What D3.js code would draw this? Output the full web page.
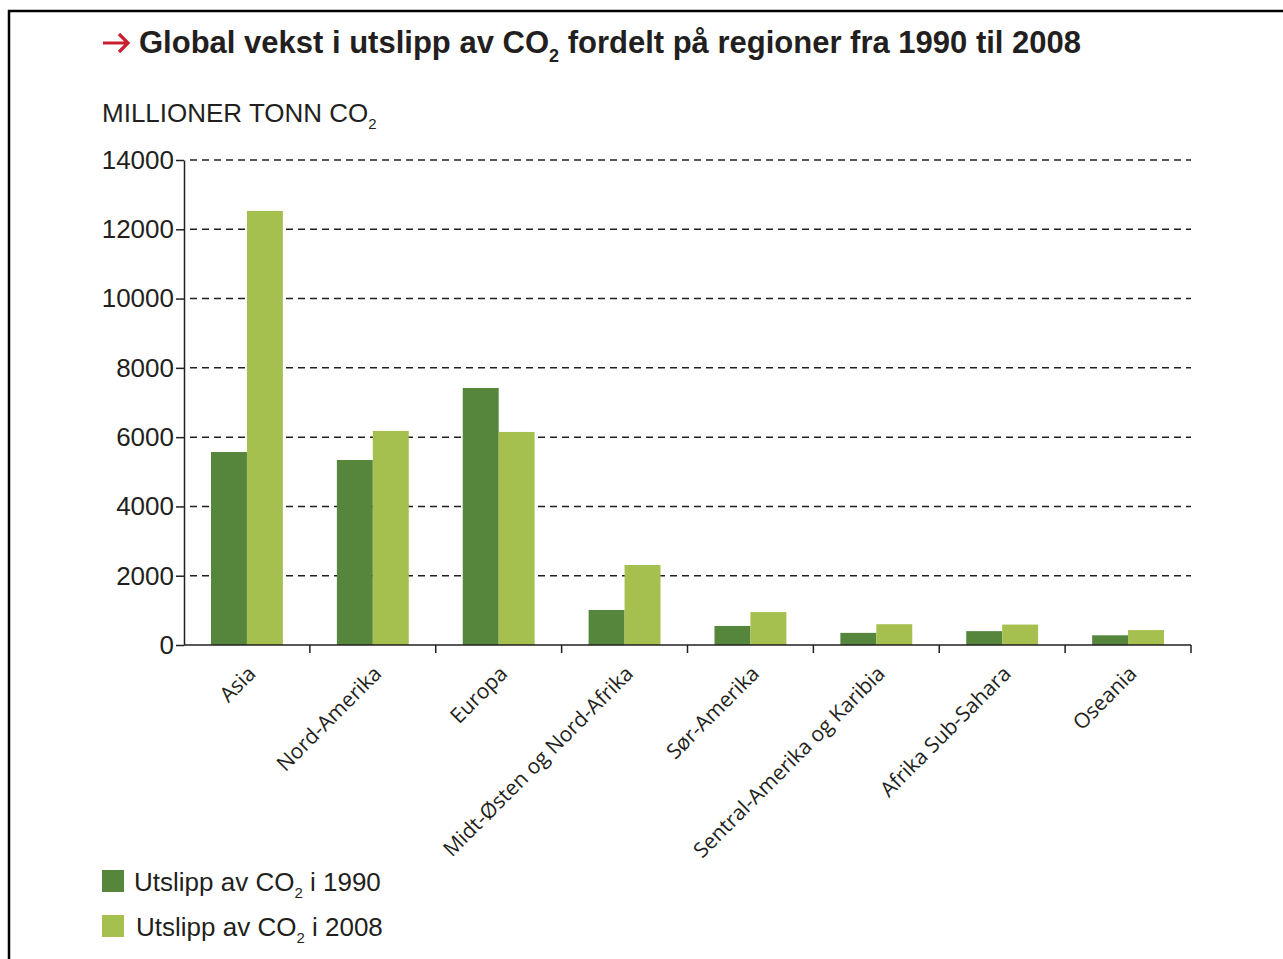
<!DOCTYPE html>
<meta charset="utf-8">
<style>
body { margin: 0; background: #fff; }
svg text { fill: #231f20; }
.grid line { stroke: #231f20; stroke-dasharray: 7,5; stroke-width: 1.5px; }
.axis path, .axis line { stroke: #231f20; stroke-width: 1.5px; }
.axis text { font-family: "Liberation Sans", Arial, sans-serif; font-size: 26px; fill: #231f20; }
.xaxis text { font-family: "Open Sans", sans-serif; font-size: 21px; }
</style>
<svg width="1283" height="959"></svg>
<script src="https://d3js.org/d3.v7.min.js"></script>
<script>

  var regions = ["Asia", "Nord-Amerika", "Europa", "Midt-Østen og Nord-Afrika", "Sør-Amerika",
                 "Sentral-Amerika og Karibia", "Afrika Sub-Sahara", "Oseania"];
  var values1990 = [5570, 5340, 7420, 1010, 550, 350, 400, 280];
  var values2008 = [12530, 6180, 6150, 2310, 950, 600, 590, 430];
  var yTicks = [0, 2000, 4000, 6000, 8000, 10000, 12000, 14000];
  var series = ["1990", "2008"];
  var colors = ["#55863c", "#a5c04e"];

  var svg = d3.select("svg");

  // frame (left + top edge)
  svg.append("path")
      .attr("d", "M9,959 V11 H1283")
      .attr("fill", "none")
      .attr("stroke", "#000")
      .attr("stroke-width", 2.5);

  // red arrow before the title
  svg.append("path")
      .attr("d", "M103,43 H128 M119,34 L128,43 L119,52")
      .attr("fill", "none")
      .attr("stroke", "#c8202f")
      .attr("stroke-width", 3.2);

  // title
  var title = svg.append("text")
      .attr("x", 139).attr("y", 53)
      .style("font-family", "'Liberation Sans', Arial, sans-serif")
      .style("font-size", "31px")
      .style("font-weight", "bold");
  title.append("tspan").text("Global vekst i utslipp av CO");
  title.append("tspan").text("2").attr("dy", 9).style("font-size", "18px");
  title.append("tspan").text(" fordelt på regioner fra 1990 til 2008").attr("dy", -9);

  // unit label
  var unit = svg.append("text")
      .attr("x", 102).attr("y", 122)
      .style("font-family", "'Liberation Sans', Arial, sans-serif")
      .style("font-size", "26px");
  unit.append("tspan").text("MILLIONER TONN CO");
  unit.append("tspan").text("2").attr("dy", 7).style("font-size", "15px");

  var x0 = 184, x1 = 1191, yTop = 160, yBot = 645;

  var x = d3.scaleBand().domain(regions).range([x0, x1]).paddingInner(0).paddingOuter(0);
  var xs = d3.scaleBand().domain(series).range([27, x.bandwidth() - 27]).padding(0);
  var y = d3.scaleLinear().domain([0, 14000]).range([yBot, yTop]);

  // gridlines
  svg.append("g").attr("class", "grid")
    .selectAll("line")
    .data(yTicks.filter(function(d) { return d > 0; }))
    .enter().append("line")
      .attr("x1", x0 + 6).attr("x2", x1)
      .attr("y1", function(d) { return y(d); })
      .attr("y2", function(d) { return y(d); });

  // bars
  var groups = svg.append("g")
    .selectAll("g")
    .data(regions)
    .enter().append("g")
      .attr("transform", function(d) { return "translate(" + x(d) + ",0)"; });

  groups.selectAll("rect")
    .data(function(d, i) { return [values1990[i], values2008[i]]; })
    .enter().append("rect")
      .attr("x", function(d, j) { return xs(series[j]); })
      .attr("width", xs.bandwidth())
      .attr("y", function(d) { return y(d); })
      .attr("height", function(d) { return yBot - y(d); })
      .attr("fill", function(d, j) { return colors[j]; });

  // y axis
  svg.append("g").attr("class", "axis")
      .attr("transform", "translate(" + x0 + ",0)")
      .call(d3.axisLeft(y).tickValues(yTicks).tickSize(8).tickSizeOuter(0).tickPadding(2).tickFormat(d3.format("d")));

  // x axis with ticks at band edges
  var xa = svg.append("g").attr("class", "axis xaxis")
      .attr("transform", "translate(0," + yBot + ")");
  xa.append("line").attr("x1", x0).attr("x2", x1).attr("y1", 0).attr("y2", 0);
  xa.selectAll(".edge")
    .data(regions)
    .enter().append("line")
      .attr("class", "edge")
      .attr("x1", function(d) { return x(d) + x.bandwidth(); })
      .attr("x2", function(d) { return x(d) + x.bandwidth(); })
      .attr("y1", 0).attr("y2", 8);
  xa.selectAll("text")
    .data(regions)
    .enter().append("text")
      .attr("text-anchor", "end")
      .attr("transform", function(d) {
        return "translate(" + (x(d) + x.bandwidth() / 2 + 10) + ",30) rotate(-45)";
      })
      .text(function(d) { return d; });

  // legend
  var legend = svg.append("g")
    .selectAll("g")
    .data(series)
    .enter().append("g")
      .attr("transform", function(d, i) { return "translate(102," + (870 + i * 45) + ")"; });
  legend.append("rect")
      .attr("width", 22).attr("height", 22)
      .attr("fill", function(d, i) { return colors[i]; });
  var lt = legend.append("text")
      .attr("x", function(d, i) { return i === 0 ? 32 : 34; }).attr("y", 21)
      .style("font-family", "'Liberation Sans', Arial, sans-serif")
      .style("font-size", "26px");
  lt.append("tspan").text("Utslipp av CO");
  lt.append("tspan").text("2").attr("dy", 7).style("font-size", "15px");
  lt.append("tspan").text(function(d) { return " i " + d; }).attr("dy", -7);
</script>
